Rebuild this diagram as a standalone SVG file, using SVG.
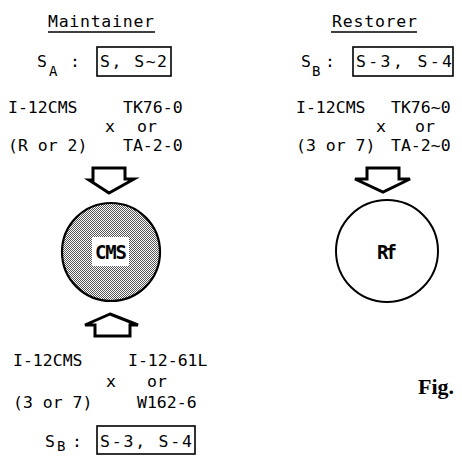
<svg xmlns="http://www.w3.org/2000/svg" width="462" height="456" viewBox="0 0 462 456">
<style>
.t{font-family:"DejaVu Sans Mono","Liberation Mono",monospace;font-size:16.5px;fill:#000}
.sub{font-family:"DejaVu Sans Mono","Liberation Mono",monospace;font-size:14px;fill:#000}
.box{fill:none;stroke:#000;stroke-width:1.6}
.ul{stroke:#000;stroke-width:1.5}
.arr{fill:#fff;stroke:#000;stroke-width:3;stroke-linejoin:miter}
.lbl{font-family:"DejaVu Sans Mono","Liberation Mono",monospace;font-weight:bold;font-size:19px;fill:#000}
</style>
<defs>
<pattern id="stip" width="2" height="2" patternUnits="userSpaceOnUse">
<rect width="2" height="2" fill="#fff"/>
<rect width="1" height="1" fill="#555"/>
<rect x="1" y="1" width="1" height="1" fill="#555"/>
</pattern>
</defs>
<rect width="462" height="456" fill="#fff"/>

<g id="maintainer-header">
<text class="t" x="48" y="27" textLength="106">Maintainer</text>
<line class="ul" x1="48" y1="32" x2="155" y2="32"/>
<text class="t" x="37" y="67">S</text>
<text class="sub" x="49" y="76">A</text>
<text class="t" x="70" y="67">:</text>
<rect class="box" x="97" y="47" width="74" height="29"/>
<text class="t" x="100" y="67" textLength="67">S, S~2</text>
</g>

<g id="maintainer-cross-top">
<text class="t" x="8" y="113">I-12CMS</text>
<text class="t" x="123" y="113">TK76-0</text>
<text class="t" x="105" y="132">x</text>
<text class="t" x="137" y="132">or</text>
<text class="t" x="8" y="151">(R or 2)</text>
<text class="t" x="123" y="151">TA-2-0</text>
</g>

<g id="restorer-header">
<text class="t" x="332" y="27" textLength="85">Restorer</text>
<line class="ul" x1="331" y1="32" x2="417" y2="32"/>
<text class="t" x="301" y="67">S</text>
<text class="sub" x="312" y="76">B</text>
<text class="t" x="325" y="67">:</text>
<rect class="box" x="353" y="47" width="100" height="29"/>
<text class="t" x="356" y="67" textLength="96">S-3, S-4</text>
</g>

<g id="restorer-cross">
<text class="t" x="296" y="113">I-12CMS</text>
<text class="t" x="391" y="113">TK76~0</text>
<text class="t" x="376" y="132">x</text>
<text class="t" x="415" y="132">or</text>
<text class="t" x="296" y="151">(3 or 7)</text>
<text class="t" x="391" y="151">TA-2~0</text>
</g>

<g id="cms-node">
<circle cx="111" cy="252" r="49" fill="url(#stip)" stroke="#000" stroke-width="2.2"/>
<rect x="92" y="237" width="37" height="29" fill="#fff"/>
<text class="lbl" x="95" y="259" textLength="32">CMS</text>
</g>

<g id="rf-node">
<circle cx="387" cy="251" r="51" fill="#fff" stroke="#000" stroke-width="2"/>
<text class="lbl" x="377" y="259" textLength="20">Rf</text>
</g>

<g id="maintainer-cross-bottom">
<text class="t" x="13" y="366">I-12CMS</text>
<text class="t" x="128" y="366">I-12-61L</text>
<text class="t" x="106" y="387">x</text>
<text class="t" x="147" y="387">or</text>
<text class="t" x="13" y="408">(3 or 7)</text>
<text class="t" x="137" y="408">W162-6</text>
</g>

<g id="maintainer-footer">
<text class="t" x="45" y="447">S</text>
<text class="sub" x="57" y="451" font-size="11">B</text>
<text class="t" x="72" y="447">:</text>
<rect class="box" x="97" y="426" width="98" height="28"/>
<text class="t" x="100" y="447" textLength="92">S-3, S-4</text>
</g>

<g id="fig-label">
<text x="418" y="394" font-family="Liberation Serif,serif" font-weight="bold" font-size="22">Fig.</text>
</g>

<g id="connectors">
<polygon class="arr" points="93,168 125,168 125,179 134,179 109,193 89,180 93,180"/>
<polygon class="arr" points="367,168 399,168 399,179 410,179 383,192 355,179 367,179"/>
<polygon class="arr" points="110,314 138,325 130,325 130,336 95,336 95,325 85,325"/>
</g>
</svg>
